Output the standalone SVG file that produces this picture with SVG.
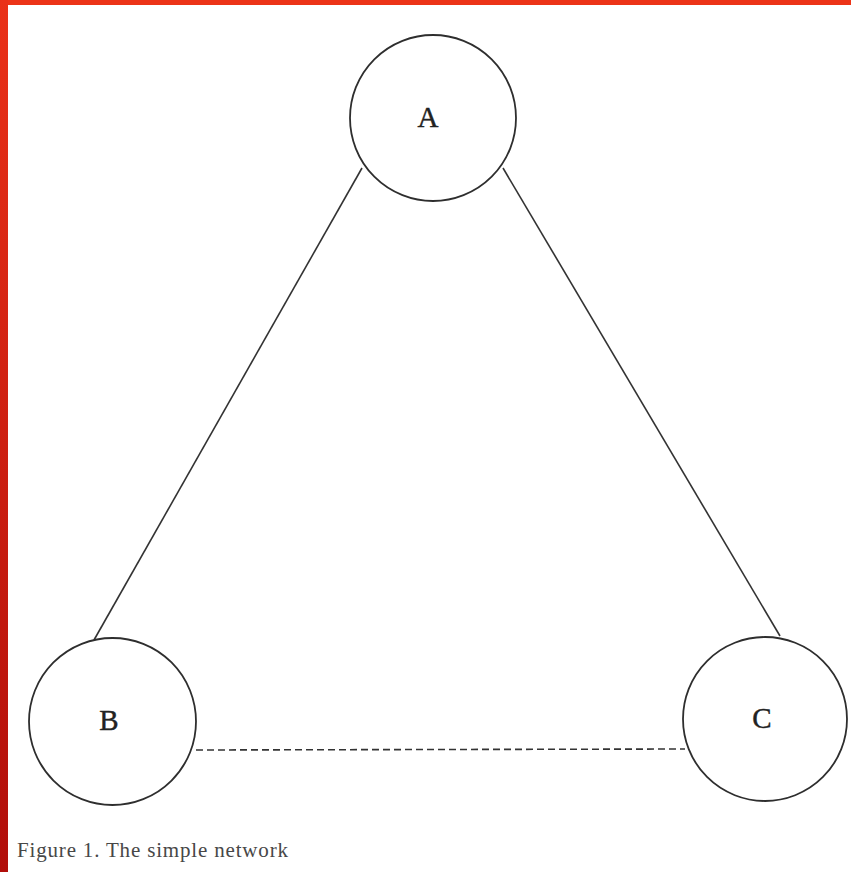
<svg xmlns="http://www.w3.org/2000/svg" width="851" height="872" viewBox="0 0 851 872">
  <defs>
    <linearGradient id="edgeLeft" x1="0" y1="0" x2="0" y2="1">
      <stop offset="0" stop-color="#ea3118"/>
      <stop offset="1" stop-color="#b10e0a"/>
    </linearGradient>
    <style>
      .node circle { fill: #ffffff; stroke: #2e2e2e; stroke-width: 1.8; }
      .node text { font-family: "Liberation Serif", "DejaVu Serif", serif; font-size: 29px; fill: #222222; stroke: #222222; stroke-width: 0.4; text-anchor: middle; }
      .edge { stroke: #333333; stroke-width: 1.6; fill: none; }
      .dashed { stroke-dasharray: 7 4; }
      .caption { font-family: "Liberation Serif", "DejaVu Serif", serif; font-size: 21px; fill: #474747; }
    </style>
  </defs>

  <!-- page background and red frame -->
  <rect x="0" y="0" width="851" height="872" fill="#ffffff"/>
  <rect x="0" y="0" width="851" height="5" fill="#ec3418"/>
  <rect x="0" y="0" width="8" height="872" fill="url(#edgeLeft)"/>

  <!-- connectors -->
  <g id="connectors">
    <line class="edge" x1="362" y1="168" x2="94" y2="640"/>
    <line class="edge" x1="503" y1="168" x2="780" y2="636"/>
    <line class="edge dashed" x1="196" y1="750" x2="685" y2="749"/>
  </g>

  <!-- nodes -->
  <g id="node-A" class="node">
    <circle cx="433" cy="118" r="83"/>
    <text x="428" y="127">A</text>
  </g>
  <g id="node-B" class="node">
    <circle cx="112.5" cy="721.5" r="83.5"/>
    <text x="109" y="730">B</text>
  </g>
  <g id="node-C" class="node">
    <circle cx="765" cy="719" r="82"/>
    <text x="762" y="728">C</text>
  </g>

  <text class="caption" x="17" y="857" textLength="271">Figure 1. The simple network</text>
</svg>
